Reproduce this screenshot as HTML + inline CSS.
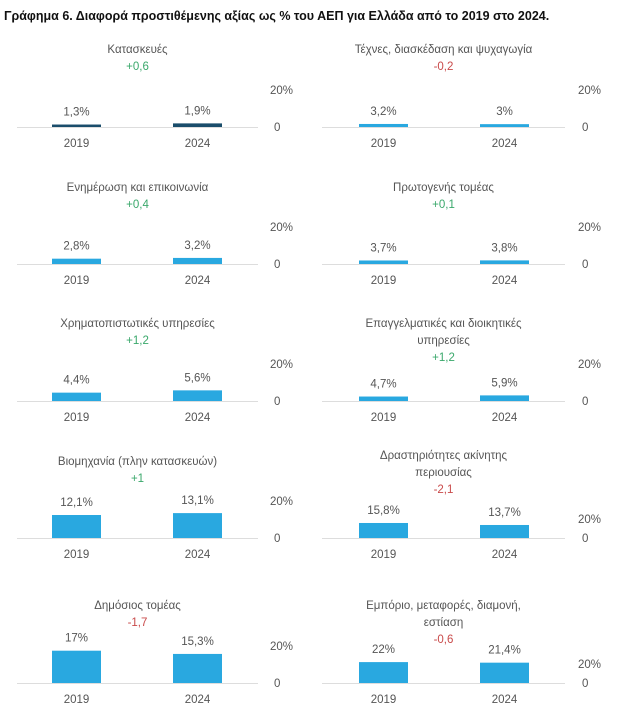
<!DOCTYPE html>
<html><head><meta charset="utf-8"><style>
body{margin:0;background:#fff;width:624px;height:707px;overflow:hidden;font-family:"Liberation Sans","Noto Sans CJK SC",sans-serif}
svg text{font-family:"Liberation Sans","Noto Sans CJK SC",sans-serif}
</style></head><body>
<svg id="c" width="624" height="707">
<text x="4" y="20" font-size="12.5" font-weight="bold" fill="#111">Γράφημα 6. Διαφορά προστιθέμενης αξίας ως % του ΑΕΠ για Ελλάδα από το 2019 στο 2024.</text>
</svg>
<script>
const titles=[["Κατασκευές"],["Τέχνες, διασκέδαση και ψυχαγωγία"],["Ενημέρωση και επικοινωνία"],["Πρωτογενής τομέας"],["Χρηματοπιστωτικές υπηρεσίες"],["Επαγγελματικές και διοικητικές","υπηρεσίες"],["Βιομηχανία (πλην κατασκευών)"],["Δραστηριότητες ακίνητης","περιουσίας"],["Δημόσιος τομέας"],["Εμπόριο, μεταφορές, διαμονή,","εστίαση"]];
const years=["2019","2024"];
const v2019=[1.3,3.2,2.8,3.7,4.4,4.7,12.1,15.8,17,22];
const v2024=[1.9,3,3.2,3.8,5.6,5.9,13.1,13.7,15.3,21.4];
const valueLabels2019=["1,3%","3,2%","2,8%","3,7%","4,4%","4,7%","12,1%","15,8%","17%","22%"];
const valueLabels2024=["1,9%","3%","3,2%","3,8%","5,6%","5,9%","13,1%","13,7%","15,3%","21,4%"];
const diffs=["+0,6","-0,2","+0,4","+0,1","+1,2","+1,2","+1","-2,1","-1,7","-0,6"];
const tickLabels=["0","20%"];
const svg=document.getElementById('c');
const NS="http://www.w3.org/2000/svg";
function mk(t,a,txt){const e=document.createElementNS(NS,t);for(const k in a)e.setAttribute(k,a[k]);if(txt!=null)e.textContent=txt;svg.appendChild(e);return e;}
const baselines=[127,264,401,538,683];
function yScale(v,base,right){return base-v*(right?0.95:1.9);}
for(let i=0;i<10;i++){
  const row=Math.floor(i/2),right=i%2;
  const base=baselines[row];
  const x0=right?322:17, x1=right?565:258;
  const bx=right?[359,480]:[52,173];
  const cx=(x0+x1)/2;
  const nl=titles[i].length;
  const titleTop=(row===0?49:row===1?187:row===2?323:row===3?(nl>1?455:461):605);
  titles[i].forEach((t,j)=>{
    const e=mk('text',{x:cx,y:titleTop+j*17+4,'font-size':11.5,fill:'#555','text-anchor':'middle'},t);
    
    
  });
  const d=mk('text',{x:cx,y:titleTop+nl*17+4,'font-size':11.5,fill:diffs[i][0]==='+'?'#3aa86b':'#c94a4a','text-anchor':'middle'},diffs[i]);
  
  
  const ax=mk('line',{x1:x0,x2:x1,y1:base+0.5,y2:base+0.5,stroke:'#ddd','stroke-width':1});
  
  
  const tx=right?578:270;
  const t0=mk('text',{x:tx+4,y:base+4,'font-size':11.5,fill:'#555'},tickLabels[0]);
  
  
  const off=(right&&row>=3)?15:33;
  const t1=mk('text',{x:tx,y:base-off,'font-size':11.5,fill:'#555'},tickLabels[1]);
  
  
  const vals=[v2019[i],v2024[i]], labs=[valueLabels2019[i],valueLabels2024[i]];
  for(let k=0;k<2;k++){
    const top=yScale(vals[k],base,right);
    const b=mk('rect',{x:bx[k],y:top,width:49,height:base-top,fill:i===0?'#1a4d6b':'#29a8e0'});
    
    
    const l=mk('text',{x:bx[k]+24.5,y:top-9,'font-size':11.5,fill:'#555','text-anchor':'middle'},labs[k]);
    
    
    const yl=mk('text',{x:bx[k]+24.5,y:base+20,'font-size':11.5,fill:'#555','text-anchor':'middle'},years[k]);
    
    
  }
}
</script>
</body></html>
